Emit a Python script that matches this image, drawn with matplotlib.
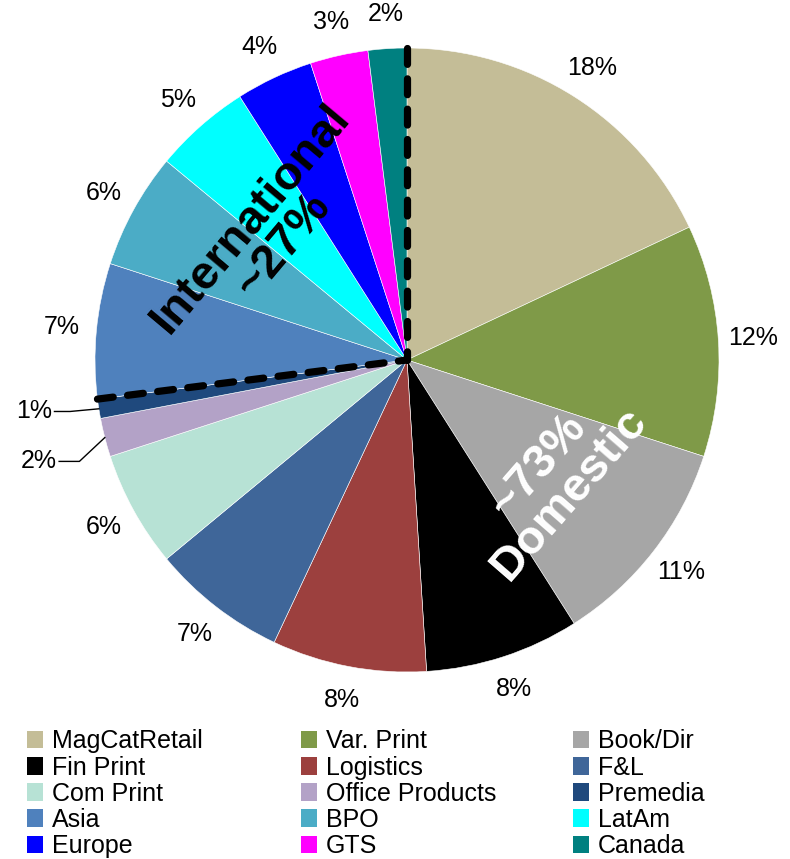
import numpy as np
import matplotlib
matplotlib.use('Agg')
import matplotlib.pyplot as plt
from matplotlib.patches import Patch

plt.rcParams['font.family'] = ['Liberation Sans', 'DejaVu Sans']

segments = ['MagCatRetail', 'Var. Print', 'Book/Dir', 'Fin Print', 'Logistics',
            'F&L', 'Com Print', 'Office Products', 'Premedia', 'Asia', 'BPO',
            'LatAm', 'Europe', 'GTS', 'Canada']
shares = [18, 12, 11, 8, 8, 7, 6, 2, 1, 7, 6, 5, 4, 3, 2]
colors = ['#C4BD97', '#7F9A48', '#A6A6A6', '#000000', '#9C403E', '#3F6699',
          '#B7E2D5', '#B3A2C7', '#1F497D', '#4F81BD', '#4BACC6', '#00FFFF',
          '#0000FF', '#FF00FF', '#008080']
domestic_share = 73
international_share = 27

fig = plt.figure(figsize=(7.9, 8.59), dpi=100)
cx, cy, r = 407, 360, 312
ax = fig.add_axes([(cx - r) / 790, (859 - cy - r) / 859, 2 * r / 790, 2 * r / 859])

wedges, texts, autotexts = ax.pie(
    shares, colors=colors, startangle=90, counterclock=False,
    autopct='%.0f%%', pctdistance=1.11,
    wedgeprops=dict(edgecolor='white', linewidth=0.4),
    textprops=dict(fontsize=18, color='black'))
ax.set_xlim(-1, 1)
ax.set_ylim(-1, 1)
ax.set_aspect('equal')
ax.axis('off')

# small wedges get their labels pulled out with leader lines
total = float(sum(shares))
cum = np.cumsum(shares)
leaders = {7: ((-1.05, -0.325), (-1.18, -0.325)),
           8: ((-1.08, -0.165), (-1.195, -0.165))}
for i, (knee, txt) in leaders.items():
    mid = (cum[i] - shares[i] / 2) / total * 360
    ang = np.deg2rad(90 - mid)
    edge = (np.cos(ang), np.sin(ang))
    ax.plot([edge[0], knee[0], txt[0] + 0.065], [edge[1], knee[1], txt[1]],
            color='black', lw=1, clip_on=False)
    autotexts[i].set_position(txt)
    autotexts[i].set_ha('center')

# dashed split between domestic and international, drawn rim -> centre
split = np.deg2rad(90 - domestic_share / total * 360)
for a in [np.pi / 2, split]:
    ax.plot([np.cos(a), 0], [np.sin(a), 0], color='black', lw=5.2,
            linestyle=(0, (2.2, 2.0)), dash_capstyle='round', clip_on=False)

ax.text(-0.45, 0.41, 'International\n~%d%%' % international_share,
        rotation=50, ha='center', va='center', rotation_mode='anchor',
        fontsize=34, fontweight='bold', color='black', linespacing=0.95)
ax.text(0.47, -0.385, '~%d%%\nDomestic' % domestic_share,
        rotation=49, ha='center', va='center', rotation_mode='anchor',
        fontsize=34, fontweight='bold', color='white', linespacing=0.95)

# legend laid out row by row in three columns
handles = [Patch(facecolor=c, edgecolor='none') for c in colors]
col_x = [0.034, 0.381, 0.725]
for k in range(3):
    fig.legend(handles[k::3], segments[k::3], loc='upper left',
               bbox_to_anchor=(col_x[k], 0.151), frameon=False,
               fontsize=18, handlelength=0.65, handleheight=0.72,
               handletextpad=0.35, labelspacing=0.09, borderpad=0,
               borderaxespad=0)

fig.savefig('out.png', dpi=100)
